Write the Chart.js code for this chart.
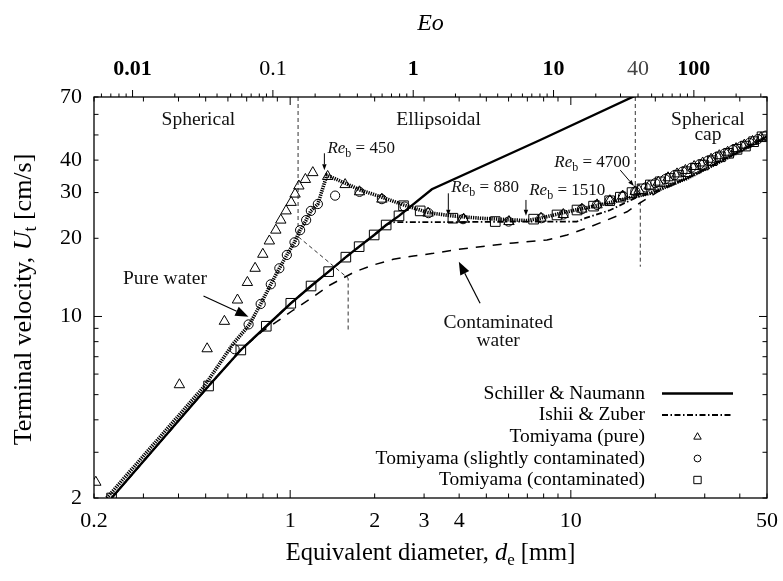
<!DOCTYPE html>
<html>
<head>
<meta charset="utf-8">
<title>Terminal velocity of air bubbles</title>
<script src="https://cdn.jsdelivr.net/npm/chart.js@4.4.1/dist/chart.umd.min.js"></script>
<style>
  body { margin: 0; background: #fff; }
  canvas { display: block; }
</style>
</head>
<body>
<canvas id="chart" width="783" height="581"></canvas>
<script>
// ---------- data: equivalent diameter d [mm], terminal velocity U [cm/s] ----------

// Tomiyama (pure) - triangles
const pureD = [0.203, 0.403, 0.506, 0.583, 0.649, 0.704, 0.750, 0.799, 0.843, 0.889, 0.926, 0.967,
  1.008, 1.041, 1.074, 1.133, 1.204, 1.360, 1.570, 1.766, 2.122, 3.10, 4.15, 6.02, 7.83, 9.40, 10.95,
  12.40, 13.78, 15.30, 16.95, 17.5, 19.0, 20.5, 22.2, 23.9, 25.6, 27.5, 29.5, 31.6, 33.8, 36.2, 38.8,
  41.5, 44.4, 47.6];
const pureU = [2.30, 5.46, 7.51, 9.58, 11.57, 13.52, 15.33, 17.36, 19.53, 21.5, 23.5, 25.5,
  27.5, 29.6, 31.8, 33.7, 35.8, 34.6, 32.2, 30.2, 28.3, 25.0, 23.7, 23.2, 23.9, 24.7, 25.9,
  26.9, 27.9, 29.1, 30.3, 30.6, 31.8, 32.9, 34.2, 35.4, 36.5, 37.8, 39.0, 40.3, 41.6, 42.9, 44.3,
  45.7, 47.2, 48.7];

// Tomiyama (slightly contaminated) - circles
const slightD = [0.634, 0.711, 0.785, 0.853, 0.915, 0.973, 1.036, 1.085, 1.140, 1.185, 1.255, 1.446,
  1.766, 2.122, 2.558, 3.11, 4.13, 6.00, 7.85, 9.42, 10.96, 12.39, 13.75, 15.34, 16.97, 18.5, 20.0,
  21.7, 23.4, 25.0, 26.9, 28.8, 30.8, 33.0, 35.3, 37.8, 40.5, 43.3, 46.4, 49.6];
const slightU = [7.48, 9.32, 11.17, 13.30, 15.33, 17.25, 19.30, 21.5, 23.5, 25.5, 27.1, 29.2,
  30.2, 28.3, 26.5, 25.0, 23.7, 23.2, 23.9, 24.7, 25.9, 26.9, 27.9, 29.1, 30.3, 31.4, 32.6,
  33.8, 35.0, 36.1, 37.4, 38.6, 39.8, 41.1, 42.4, 43.8, 45.2, 46.6, 48.2, 49.7];

// Tomiyama (contaminated) - squares
const contD = [0.231, 0.512, 0.667, 0.822, 1.005, 1.187, 1.371, 1.579, 1.761, 1.992, 2.198, 2.442,
  2.534, 2.906, 3.80, 5.38, 7.37, 8.93, 10.52, 12.05, 13.75, 15.01, 16.52, 17.94, 19.2, 20.8, 22.6,
  24.2, 25.9, 27.8, 29.7, 31.9, 34.1, 36.5, 39.1, 41.9, 44.8, 48.0];
const contU = [2.0, 5.40, 7.43, 9.17, 11.24, 13.10, 14.88, 16.92, 18.57, 20.6, 22.5, 24.4,
  26.7, 25.5, 23.9, 23.2, 23.7, 24.6, 25.7, 26.6, 27.9, 28.8, 30.0, 31.0, 32.1, 33.0, 34.0,
  35.0, 36.1, 37.2, 38.3, 39.8, 41.2, 42.5, 44.0, 45.3, 47.1, 49.2];

// Schiller & Naumann - solid
const snD = [0.231, 0.512, 0.667, 0.822, 1.005, 1.187, 1.371, 1.579, 1.761, 1.992, 2.198, 2.442, 3.198, 7.78, 16.6, 20];
const snU = [2.0, 5.40, 7.43, 9.17, 11.24, 13.10, 14.88, 16.92, 18.57, 20.6, 22.5, 24.4, 30.9, 47.8, 70, 77];

// Ishii & Zuber - dash-dot
const izD = [0.231, 0.512, 0.667, 0.822, 1.005, 1.187, 1.371, 1.579, 1.761, 1.992, 2.198, 2.35, 4.0, 7.0,
  10.5, 11.25, 13.83, 17.2, 19.2, 25.9, 37.9, 50];
const izU = [2.0, 5.40, 7.43, 9.17, 11.24, 13.10, 14.88, 16.92, 18.57, 20.6, 22.5, 23.1, 23.1, 23.2,
  23.2, 23.9, 25.7, 28.8, 29.8, 34.0, 41.9, 49.3];

// pure water curve - thick dotted
const pwD = [0.222, 0.493, 0.622, 0.714, 0.785, 0.853, 0.915, 0.973, 1.036, 1.085, 1.140, 1.185, 1.255,
  1.351, 1.570, 1.776, 2.122, 2.534, 3.11, 3.77, 4.75, 6.98, 7.78, 9.69, 12.73, 16.74, 19.2, 25.9, 37.9, 50];
const pwU = [2.0, 5.37, 7.77, 9.27, 11.17, 13.30, 15.33, 17.25, 19.30, 21.5, 23.5, 25.5, 27.1,
  35.0, 32.6, 30.7, 28.8, 26.9, 25.1, 24.4, 23.9, 23.4, 23.9, 25.3, 26.9, 28.9, 29.8, 34.0, 41.9, 49.3];

// contaminated water curve - dashed
const cwD = [0.231, 0.512, 0.667, 0.792, 0.896, 1.027, 1.210, 1.388, 1.704, 1.98, 2.33, 2.75, 3.24, 3.93,
  5.02, 6.25, 8.22, 9.69, 11.42, 13.45, 15.86, 17.94, 20.5, 25.9, 37.9, 50];
const cwU = [2.0, 5.40, 7.43, 8.74, 9.55, 10.59, 11.92, 13.22, 14.88, 15.79, 16.6, 17.1, 17.5, 18.1,
  18.7, 19.2, 19.7, 20.6, 21.9, 23.5, 25.3, 27.7, 30.3, 34.0, 41.9, 49.3];

// regime boundaries - thin dashed
const bound1D = [1.067, 1.067, 1.609, 1.609];
const bound1U = [70, 20.3, 14.03, 8.87];
const bound2D = [16.97, 16.97];
const bound2U = [70, 28.9];
const bound3D = [17.68, 17.68];
const bound3U = [27.67, 15.55];

// axes
const xTicks = [0.2, 0.3, 0.4, 0.5, 0.6, 0.7, 0.8, 0.9, 1, 2, 3, 4, 5, 6, 7, 8, 9, 10, 20, 30, 40, 50];
const xLabels = [0.2, 1, 2, 3, 4, 10, 50];
const yTicks = [2, 3, 4, 5, 6, 7, 8, 9, 10, 20, 30, 40, 50, 60, 70];
const yLabels = [2, 10, 20, 30, 40, 70];
const eoTicks = [0.006, 0.007, 0.008, 0.009, 0.01, 0.02, 0.03, 0.04, 0.05, 0.06, 0.07, 0.08, 0.09, 0.1,
  0.2, 0.3, 0.4, 0.5, 0.6, 0.7, 0.8, 0.9, 1, 2, 3, 4, 5, 6, 7, 8, 9, 10, 20, 30, 40, 50, 60, 70, 80, 90,
  100, 200, 300];
const eoLabels = [0.01, 0.1, 1, 10, 40, 100];
const eoBold = [0.01, 1, 10, 100];
const eoPerMm2 = 0.1328; // Eo = g*drho*d^2/sigma, d in mm

const legendNames = ['Schiller & Naumann', 'Ishii & Zuber', 'Tomiyama (pure)',
  'Tomiyama (slightly contaminated)', 'Tomiyama (contaminated)'];

// ---------- helpers ----------
const serif = '"Liberation Serif", "Times New Roman", serif';
const f = (size, style) => (style ? style + ' ' : '') + size + 'px ' + serif;
const pts = (xs, ys) => xs.map((x, i) => ({ x: x, y: ys[i] }));
const isDecade = v => Math.abs(Math.log10(v) - Math.round(Math.log10(v))) < 1e-6;

function rich(ctx, parts, x, y, align) {
  let w = 0;
  parts.forEach(p => { ctx.font = p.font; p.w = ctx.measureText(p.t).width; w += p.w; });
  let cx = align === 'center' ? x - w / 2 : (align === 'right' ? x - w : x);
  ctx.textAlign = 'left';
  ctx.textBaseline = 'alphabetic';
  parts.forEach(p => { ctx.font = p.font; ctx.fillText(p.t, cx, y + (p.dy || 0)); cx += p.w; });
}

function seg(ctx, x1, y1, x2, y2) {
  ctx.beginPath(); ctx.moveTo(x1, y1); ctx.lineTo(x2, y2); ctx.stroke();
}

function arrow(ctx, x1, y1, x2, y2, len, half, lw) {
  const ang = Math.atan2(y2 - y1, x2 - x1);
  const bx = x2 - Math.cos(ang) * len, by = y2 - Math.sin(ang) * len;
  ctx.lineWidth = lw;
  seg(ctx, x1, y1, bx, by);
  ctx.beginPath();
  ctx.moveTo(x2, y2);
  ctx.lineTo(bx + Math.sin(ang) * half, by - Math.cos(ang) * half);
  ctx.lineTo(bx - Math.sin(ang) * half, by + Math.cos(ang) * half);
  ctx.closePath();
  ctx.fill();
}

const marker = (label, d, u, style, r) => ({
  label: label, data: pts(d, u), showLine: false,
  pointStyle: style, pointRadius: r, pointBorderWidth: 1,
  pointBorderColor: '#000', pointBackgroundColor: 'rgba(0,0,0,0)',
  xAxisID: 'x', yAxisID: 'y'
});
const curve = (label, d, u, width, dash) => ({
  label: label, data: pts(d, u), showLine: true, pointRadius: 0,
  borderColor: '#000', borderWidth: width, borderDash: dash, fill: false, tension: 0,
  xAxisID: 'x', yAxisID: 'y'
});

const datasets = [
  marker('Tomiyama (pure)', pureD, pureU, 'triangle', 6),
  marker('Tomiyama (slightly contaminated)', slightD, slightU, 'circle', 4.6),
  marker('Tomiyama (contaminated)', contD, contU, 'rect', 6.8),
  curve('Schiller & Naumann', snD, snU, 2.4, []),
  curve('Ishii & Zuber', izD, izU, 1.8, [6, 2.5, 1.5, 2.5]),
  curve('pure water', pwD, pwU, 3.6, [1.3, 1]),
  curve('contaminated water', cwD, cwU, 1.5, [9, 8]),
  curve('b1', bound1D, bound1U, 1, [4, 3]),
  curve('b2', bound2D, bound2U, 1, [4, 3]),
  curve('b3', bound3D, bound3U, 1, [4, 3])
];
datasets[7].borderColor = datasets[8].borderColor = datasets[9].borderColor = '#333';

// ---------- axes, labels, annotations, legend ----------
const decor = {
  id: 'decor',
  afterDatasetsDraw(chart) {
    const { ctx, chartArea: a, scales } = chart;
    const xs = scales.x, ys = scales.y, es = scales.eo;
    const X = v => xs.getPixelForValue(v), Y = v => ys.getPixelForValue(v);
    ctx.save();
    ctx.strokeStyle = '#000';
    ctx.fillStyle = '#000';
    ctx.setLineDash([]);
    ctx.lineWidth = 1;

    // ticks
    xTicks.forEach(v => {
      const p = X(v), len = isDecade(v) ? 8 : 4.5;
      seg(ctx, p, a.bottom, p, a.bottom - len);
      seg(ctx, p, a.top, p, a.top + len);
    });
    yTicks.forEach(v => {
      const p = Y(v), len = isDecade(v) ? 8 : 4.5;
      seg(ctx, a.left, p, a.left + len, p);
      seg(ctx, a.right, p, a.right - len, p);
    });
    eoTicks.forEach(v => {
      const p = es.getPixelForValue(v), len = isDecade(v) ? 7 : 3.5;
      seg(ctx, p, a.top, p, a.top - len);
    });

    // frame
    ctx.lineWidth = 1.3;
    ctx.strokeRect(a.left, a.top, a.right - a.left, a.bottom - a.top);

    // tick labels
    ctx.font = f(22);
    ctx.textAlign = 'center';
    ctx.textBaseline = 'middle';
    xLabels.forEach(v => ctx.fillText(String(v), X(v), a.bottom + 23));
    ctx.textAlign = 'right';
    yLabels.forEach(v => ctx.fillText(String(v), a.left - 12, Y(v)));
    ctx.textAlign = 'center';
    eoLabels.forEach(v => {
      const bold = eoBold.indexOf(v) >= 0;
      ctx.font = f(22, bold ? 'bold' : '');
      ctx.fillStyle = v === 40 ? '#444' : '#000';
      ctx.fillText(String(v), es.getPixelForValue(v), a.top - 28);
    });
    ctx.fillStyle = '#000';

    // axis titles
    const mid = (a.left + a.right) / 2;
    rich(ctx, [{ t: 'Eo', font: f(24, 'italic') }], mid, 30, 'center');
    rich(ctx, [
      { t: 'Equivalent diameter, ', font: f(24.5) },
      { t: 'd', font: f(24.5, 'italic') },
      { t: 'e', font: f(17), dy: 5 },
      { t: ' [mm]', font: f(24.5) }
    ], mid, a.bottom + 62, 'center');
    ctx.save();
    ctx.translate(31, (a.top + a.bottom) / 2 + 2);
    ctx.rotate(-Math.PI / 2);
    rich(ctx, [
      { t: 'Terminal velocity, ', font: f(26) },
      { t: 'U', font: f(26, 'italic') },
      { t: 't', font: f(18), dy: 5 },
      { t: ' [cm/s]', font: f(26) }
    ], 0, 0, 'center');
    ctx.restore();

    // regime and water labels
    ctx.fillStyle = '#111';
    ctx.font = f(19.5);
    ctx.textAlign = 'center';
    ctx.textBaseline = 'middle';
    [['Spherical', 0.471, 57.4], ['Ellipsoidal', 3.38, 57.4], ['Spherical', 30.8, 57.4], ['cap', 30.8, 50.0],
     ['Pure water', 0.358, 13.9], ['Contaminated', 5.51, 9.41], ['water', 5.51, 8.07]]
      .forEach(n => ctx.fillText(n[0], X(n[1]), Y(n[2])));

    // Reynolds number labels
    [['450', 1.79, 44.4], ['880', 4.95, 31.6], ['1510', 9.71, 30.7], ['4700', 11.93, 39.3]].forEach(n => {
      rich(ctx, [
        { t: 'Re', font: f(17, 'italic') },
        { t: 'b', font: f(12), dy: 4 },
        { t: ' = ' + n[0], font: f(17) }
      ], X(n[1]), Y(n[2]) + 5, 'center');
    });

    // arrows
    ctx.fillStyle = '#000';
    ctx.strokeStyle = '#000';
    [[1.324, 42.5, 1.324, 36.6], [3.66, 29.8, 3.66, 24.4], [6.92, 28.1, 6.92, 24.4], [15.0, 36.6, 16.77, 31.8]]
      .forEach(r => arrow(ctx, X(r[0]), Y(r[1]), X(r[2]), Y(r[3]), 6, 2.2, 1));
    arrow(ctx, X(0.491), Y(11.99), X(0.710), Y(9.98), 13, 5, 1.2);
    arrow(ctx, X(4.75), Y(11.24), X(3.99), Y(16.26), 13, 5, 1.2);

    // legend
    const rowY = [104.5, 83, 61, 39.5, 18].map(o => a.bottom - o);
    ctx.font = f(19.5);
    ctx.textAlign = 'right';
    ctx.textBaseline = 'middle';
    legendNames.forEach((name, i) => ctx.fillText(name, a.right - 122, rowY[i]));
    const l0 = a.right - 105, l1 = a.right - 34, mx = a.right - 69.5;
    ctx.lineWidth = 2.4;
    seg(ctx, l0, rowY[0], l1, rowY[0]);
    ctx.lineWidth = 1.8;
    ctx.setLineDash([6, 2.5, 1.5, 2.5]);
    seg(ctx, l0, rowY[1], l1, rowY[1]);
    ctx.setLineDash([]);
    const drawPt = (style, r, y) => Chart.helpers.drawPoint(ctx,
      { pointStyle: style, radius: r, rotation: 0, borderWidth: 1 }, mx, y);
    ctx.lineWidth = 1;
    ctx.fillStyle = 'rgba(0,0,0,0)';
    drawPt('triangle', 4.3, rowY[2]);
    drawPt('circle', 3.4, rowY[3]);
    drawPt('rect', 5.2, rowY[4]);
    ctx.restore();
  }
};

new Chart(document.getElementById('chart'), {
  type: 'scatter',
  data: { datasets: datasets },
  options: {
    responsive: false,
    animation: false,
    events: [],
    layout: { padding: { left: 94, right: 16, top: 97, bottom: 83 } },
    scales: {
      x: { type: 'logarithmic', min: 0.2, max: 50, display: false },
      y: { type: 'logarithmic', min: 2, max: 70, display: false },
      eo: { type: 'logarithmic', axis: 'x', position: 'top', display: false,
            min: eoPerMm2 * 0.2 * 0.2, max: eoPerMm2 * 50 * 50 }
    },
    plugins: { legend: { display: false }, tooltip: { enabled: false } }
  },
  plugins: [decor]
});
</script>
</body>
</html>
